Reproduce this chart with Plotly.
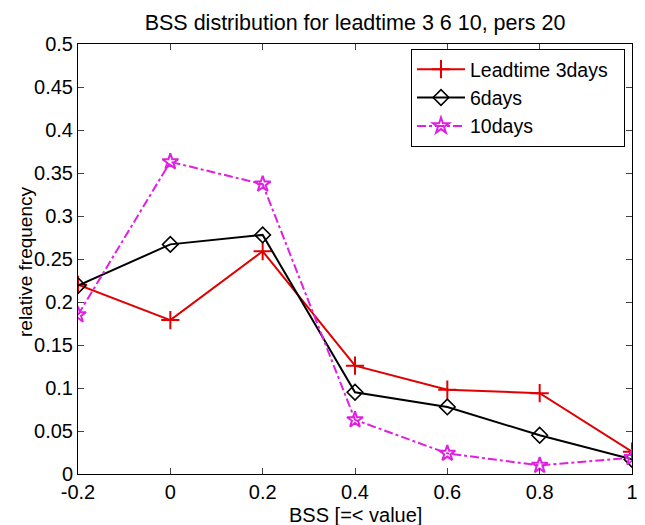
import plotly.graph_objects as go

bss = [-0.2, 0, 0.2, 0.4, 0.6, 0.8, 1.0]
lead3 = [0.220, 0.179, 0.259, 0.126, 0.098, 0.094, 0.026]
lead6 = [0.219, 0.267, 0.278, 0.095, 0.078, 0.045, 0.017]
lead10 = [0.185, 0.363, 0.337, 0.063, 0.024, 0.010, 0.019]
xticks = [-0.2, 0, 0.2, 0.4, 0.6, 0.8, 1]
xticklabels = ["-0.2", "0", "0.2", "0.4", "0.6", "0.8", "1"]
yticks = [0, 0.05, 0.1, 0.15, 0.2, 0.25, 0.3, 0.35, 0.4, 0.45, 0.5]
yticklabels = ["0", "0.05", "0.1", "0.15", "0.2", "0.25", "0.3", "0.35", "0.4", "0.45", "0.5"]

FONT = "Liberation Sans, Arial, sans-serif"
L, R, T, B = 78, 13, 44, 51
W, H = 645, 525
PW, PH = W - L - R, H - T - B

fig = go.Figure()
fig.add_trace(go.Scatter(x=bss, y=lead3, name="Leadtime 3days\u00a0\u00a0", mode="lines+markers",
                         line=dict(color="#e00000", width=2),
                         marker=dict(symbol="cross-thin", size=13, line=dict(color="#e00000", width=2))))
fig.add_trace(go.Scatter(x=bss, y=lead6, name="6days", mode="lines+markers",
                         line=dict(color="black", width=2),
                         marker=dict(symbol="diamond-open", size=12, color="black", line=dict(width=1.6))))
fig.add_trace(go.Scatter(x=bss, y=lead10, name="10days", mode="lines+markers",
                         line=dict(color="#e020e0", width=2, dash="dashdot"),
                         marker=dict(symbol="star-open", size=12, color="#e020e0", line=dict(width=2))))

fig.update_layout(
    width=W, height=H,
    margin=dict(l=L, r=R, t=T, b=B, autoexpand=False),
    paper_bgcolor="white", plot_bgcolor="white",
    font=dict(family=FONT, size=20, color="black"),
    title=dict(text="BSS distribution for leadtime 3 6 10, pers 20", x=(L + PW / 2) / W, xanchor="center",
               y=1 - 22 / H, yanchor="middle", font=dict(size=21.5)),
    showlegend=True,
    legend=dict(x=(625 - L) / PW, y=(H - B - 49) / PH, xanchor="right", yanchor="top", bgcolor="white",
                bordercolor="black", borderwidth=1, font=dict(size=19.5),
                tracegroupgap=0, itemwidth=48),
    xaxis=dict(range=[-0.2, 1], tickvals=xticks, ticktext=xticklabels, ticks="inside",
               ticklen=6, showline=True, linecolor="black", linewidth=1, mirror="ticks",
               showgrid=False, zeroline=False, automargin=False, tickfont=dict(size=20)),
    yaxis=dict(range=[0, 0.5], tickvals=yticks, ticktext=yticklabels, ticks="inside",
               ticklen=6, showline=True, linecolor="black", linewidth=1, mirror="ticks",
               showgrid=False, zeroline=False, automargin=False, tickfont=dict(size=20)),
    annotations=[
        dict(text="BSS [=< value]", xref="paper", yref="paper", x=0.5, y=-(515 - (H - B)) / PH,
             xanchor="center", yanchor="middle", showarrow=False, font=dict(size=20)),
        dict(text="relative frequency", xref="paper", yref="paper", x=-(L - 25) / PW, y=(H - B - 262) / PH,
             xanchor="center", yanchor="middle", textangle=-90, showarrow=False, font=dict(size=19)),
    ],
)
fig.write_html("out.html", config={"displayModeBar": False},
               post_script="document.body.style.margin='0';")
